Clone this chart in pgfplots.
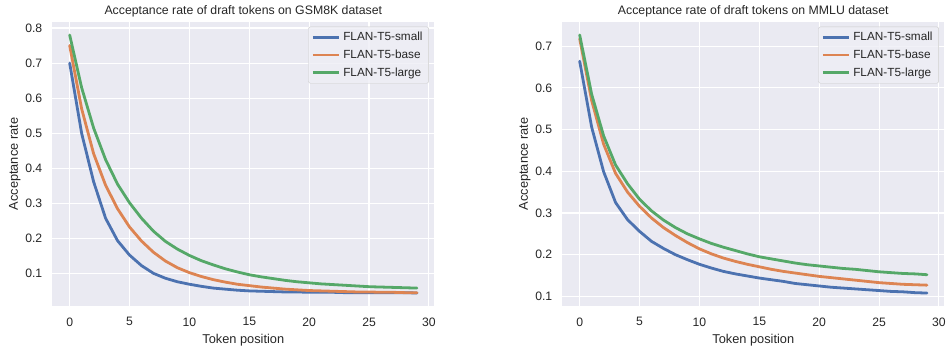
\documentclass[border=0pt]{standalone}
\usepackage{pgfplots}
\pgfplotsset{compat=1.18}
\usepackage{fontspec}
\setmainfont{Liberation Sans}
\definecolor{sbblue}{HTML}{4C72B0}
\definecolor{sborange}{HTML}{DD8452}
\definecolor{sbgreen}{HTML}{55A868}
\definecolor{sbbg}{HTML}{EAEAF2}
\definecolor{sbtext}{HTML}{262626}
\tikzset{sbline/.style={line width=2.8pt, line join=round, line cap=round}}
\pgfplotsset{
  sbstyle/.style={
    scale only axis, width=382pt, height=284pt,
    axis background/.style={fill=sbbg},
    axis line style={draw=none},
    major tick length=0pt,
    grid=major, grid style={white, line width=1.1pt},
    xmin=-1.45, xmax=30.45,
    xtick={0,5,...,30},
    tick label style={font=\fontsize{12.2}{14}\selectfont, text=sbtext},
    /pgf/number format/assume math mode=true,
    yticklabel style={/pgf/number format/fixed, /pgf/number format/precision=1, /pgf/number format/fixed zerofill},
    xticklabel style={yshift=-8pt},
    yticklabel style={xshift=-6.5pt},
    label style={font=\fontsize{12.8}{14}\selectfont, text=sbtext},
    title style={font=\fontsize{12.3}{14}\selectfont, text=sbtext, yshift=-5pt},
    xlabel={Token position},
    ylabel={Acceptance rate},
    xlabel style={yshift=-1pt},
    ylabel style={yshift=-2pt},
    legend cell align=left,
    legend image code/.code={\draw[#1, line width=2.8pt, line cap=butt] (0pt,0pt) -- (26pt,0pt);},
    legend style={at={(rel axis cs:1,1)}, anchor=north east, xshift=-5.5pt, yshift=-4.7pt,
      fill=sbbg!80!white, fill opacity=0.8, text opacity=1, draw=black!20, rounded corners=2pt,
      font=\fontsize{11.8}{13}\selectfont, text=sbtext, inner xsep=3pt, inner ysep=2.5pt,
      row sep=1.6pt, nodes={inner sep=3pt}},
  }
}
\begin{document}
\begin{tikzpicture}
\begin{axis}[sbstyle, at={(52.3pt,44pt)}, anchor=south west,
  ymin=0.008, ymax=0.817, ytick={0.1,0.2,...,0.8},
  title={Acceptance rate of draft tokens on GSM8K dataset}]
\addplot[sbblue, sbline] coordinates {(0,0.700)(1,0.500)(2,0.362)(3,0.258)(4,0.194)(5,0.153)(6,0.123)(7,0.101)(8,0.087)(9,0.077)(10,0.070)(11,0.064)(12,0.059)(13,0.056)(14,0.053)(15,0.051)(16,0.050)(17,0.049)(18,0.048)(19,0.048)(20,0.047)(21,0.047)(22,0.047)(23,0.046)(24,0.046)(25,0.046)(26,0.046)(27,0.046)(28,0.046)(29,0.045)};
\addlegendentry{FLAN-T5-small}
\addplot[sborange, sbline] coordinates {(0,0.750)(1,0.570)(2,0.442)(3,0.352)(4,0.285)(5,0.233)(6,0.193)(7,0.161)(8,0.136)(9,0.117)(10,0.103)(11,0.092)(12,0.083)(13,0.076)(14,0.070)(15,0.066)(16,0.062)(17,0.059)(18,0.056)(19,0.054)(20,0.052)(21,0.051)(22,0.050)(23,0.049)(24,0.048)(25,0.048)(26,0.047)(27,0.047)(28,0.046)(29,0.046)};
\addlegendentry{FLAN-T5-base}
\addplot[sbgreen, sbline] coordinates {(0,0.780)(1,0.630)(2,0.515)(3,0.425)(4,0.355)(5,0.302)(6,0.258)(7,0.221)(8,0.192)(9,0.170)(10,0.152)(11,0.137)(12,0.125)(13,0.114)(14,0.105)(15,0.097)(16,0.091)(17,0.086)(18,0.081)(19,0.077)(20,0.074)(21,0.071)(22,0.069)(23,0.067)(24,0.065)(25,0.063)(26,0.062)(27,0.061)(28,0.060)(29,0.059)};
\addlegendentry{FLAN-T5-large}
\end{axis}
\begin{axis}[sbstyle, at={(562.3pt,44pt)}, anchor=south west,
  ymin=0.077, ymax=0.758, ytick={0.1,0.2,...,0.7},
  title={Acceptance rate of draft tokens on MMLU dataset}]
\addplot[sbblue, sbline] coordinates {(0,0.664)(1,0.506)(2,0.399)(3,0.325)(4,0.284)(5,0.256)(6,0.232)(7,0.215)(8,0.200)(9,0.188)(10,0.177)(11,0.168)(12,0.160)(13,0.154)(14,0.149)(15,0.144)(16,0.140)(17,0.136)(18,0.131)(19,0.128)(20,0.125)(21,0.122)(22,0.120)(23,0.118)(24,0.116)(25,0.114)(26,0.112)(27,0.111)(28,0.109)(29,0.108)};
\addlegendentry{FLAN-T5-small}
\addplot[sborange, sbline] coordinates {(0,0.718)(1,0.570)(2,0.465)(3,0.395)(4,0.350)(5,0.316)(6,0.288)(7,0.265)(8,0.246)(9,0.229)(10,0.214)(11,0.202)(12,0.192)(13,0.184)(14,0.177)(15,0.171)(16,0.165)(17,0.160)(18,0.156)(19,0.152)(20,0.148)(21,0.145)(22,0.142)(23,0.139)(24,0.136)(25,0.133)(26,0.131)(27,0.129)(28,0.128)(29,0.127)};
\addlegendentry{FLAN-T5-base}
\addplot[sbgreen, sbline] coordinates {(0,0.727)(1,0.585)(2,0.485)(3,0.415)(4,0.370)(5,0.333)(6,0.305)(7,0.283)(8,0.265)(9,0.250)(10,0.238)(11,0.227)(12,0.218)(13,0.210)(14,0.202)(15,0.195)(16,0.190)(17,0.185)(18,0.180)(19,0.176)(20,0.173)(21,0.170)(22,0.167)(23,0.165)(24,0.162)(25,0.159)(26,0.157)(27,0.155)(28,0.154)(29,0.152)};
\addlegendentry{FLAN-T5-large}
\end{axis}
\pgfresetboundingbox
\path[use as bounding box] (0,0) rectangle (947pt,350pt);
\end{tikzpicture}
\end{document}
